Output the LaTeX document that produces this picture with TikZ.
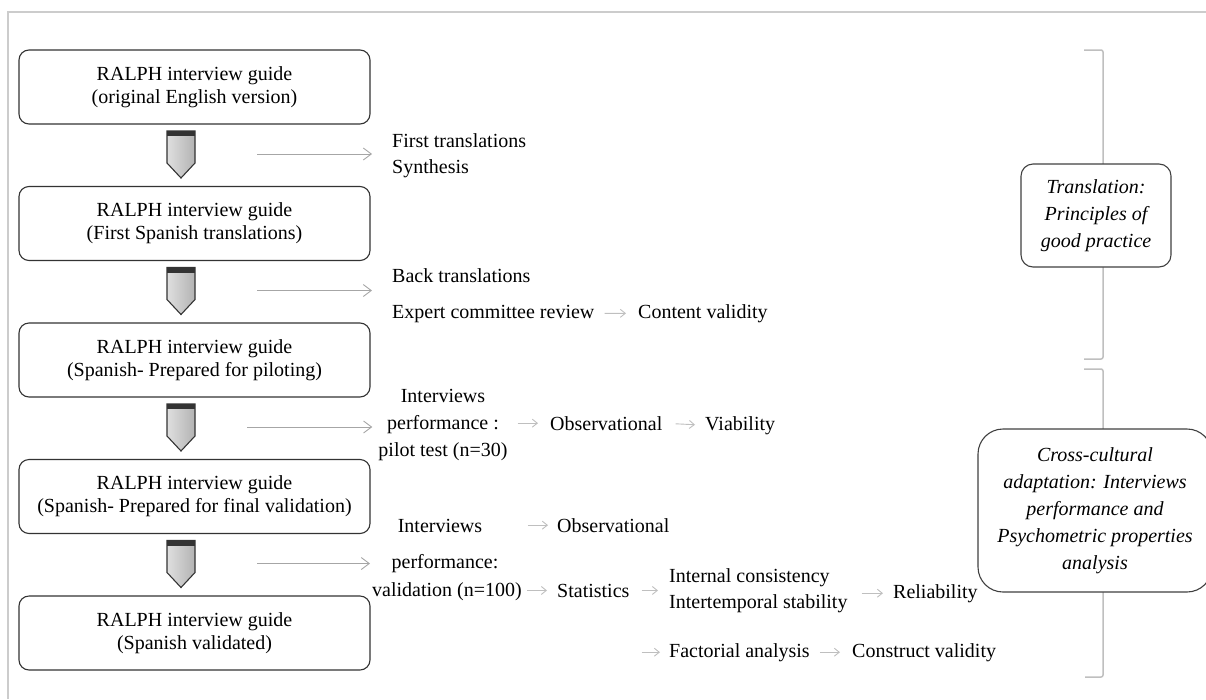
\documentclass[tikz,border=0pt]{standalone}
\usepackage{fontspec}
\setmainfont{Liberation Serif}
\usetikzlibrary{arrows.meta}

% chevron marker between two guide boxes: #1 = name of its right-hand coordinate, #2 = top y
\newcommand\stepchevron[2]{%
  \path[chevfill] (167,#2) -- (195,#2) -- (195,#2+32) -- (181,#2+47) -- (167,#2+32) -- cycle;
  \fill[black!80] (167,#2) rectangle (195,#2+5);
  \coordinate (#1) at (195,#2+23);
}

\begin{document}
\begin{tikzpicture}[x=1pt,y=-1pt,
  guide/.style={draw=black!80, line width=1.1pt, rounded corners=10pt, fill=white,
    minimum width=351pt, minimum height=74pt, align=center, inner sep=0pt,
    font=\fontsize{20}{23}\selectfont},
  lbl/.style={inner sep=0pt, font=\fontsize{20}{27}\selectfont},
  phase/.style={draw=black!75, line width=1.1pt, fill=white, align=center, inner sep=0pt,
    font=\fontsize{20}{27}\selectfont\itshape},
  chevfill/.style={left color=gray!25, right color=gray!60, draw=black!80, line width=1.1pt},
  bigarr/.style={draw=gray!70, line width=0.9pt, -{Straight Barb[length=8pt,width=12pt]}},
  smallarr/.style={draw=gray!50, line width=0.9pt, -{Straight Barb[length=5pt,width=8pt]}},
  bracket/.style={draw=gray!50, line width=1.5pt, rounded corners=2pt},
  frameline/.style={draw=gray!40, line width=1.6pt}]

\useasboundingbox (0,0) rectangle (1206,699);
\clip (0,0) rectangle (1206,699);

% outer frame (top and left edges)
\draw[frameline] (8,699) -- (8,12) -- (1206,12);

% guide versions
\node[guide] (g1) at (194.5,87)    {RALPH interview guide\\(original English version)};
\node[guide] (g2) at (194.5,223.5) {RALPH interview guide\\(First Spanish translations)};
\node[guide] (g3) at (194.5,360)   {RALPH interview guide\\(Spanish- Prepared for piloting)};
\node[guide] (g4) at (194.5,496.5) {RALPH interview guide\\(Spanish- Prepared for final validation)};
\node[guide] (g5) at (194.5,633)   {RALPH interview guide\\(Spanish validated)};

\stepchevron{c1}{131}
\stepchevron{c2}{267.5}
\stepchevron{c3}{404}
\stepchevron{c4}{540.5}

% step 1
\node[lbl, anchor=base west] (ft)  at (392,147) {First translations};
\node[lbl, anchor=base west] (syn) at (392,173) {Synthesis};
\draw[bigarr, shorten <=62pt, shorten >=20pt] (c1) -- (c1 -| ft.west);

% step 2
\node[lbl, anchor=base west] (bt)  at (392,282) {Back translations};
\node[lbl, anchor=base west] (ecr) at (392,318) {Expert committee review};
\node[lbl, anchor=base west] (cv)  at (638,318) {Content validity};
\draw[bigarr, shorten <=62pt, shorten >=20pt] (c2) -- (c2 -| bt.west);
\draw[smallarr, shorten <=10pt, shorten >=12pt] (ecr.east) -- (cv.west);

% step 3: pilot
\node[lbl, align=center] (pil) at (443,425) {Interviews\\performance :\\pilot test (n=30)};
\node[lbl, anchor=base west] (ob1) at (550,430) {Observational};
\node[lbl, anchor=base west] (via) at (705,430) {Viability};
\draw[bigarr, shorten <=52pt, shorten >=6pt] (c3) -- (c3 -| pil.west);
\draw[smallarr, shorten <=10pt, shorten >=12pt] (pil.east |- ob1.west) -- (ob1.west);
\draw[smallarr, shorten <=13pt, shorten >=10pt] (ob1.east) -- (via.west);

% step 4: validation
\node[lbl, anchor=base] (iv)   at (440,532) {Interviews};
\node[lbl, anchor=base] (perf) at (445,568) {performance:};
\node[lbl, anchor=base west] (val)  at (372,596) {validation (n=100)};
\node[lbl, anchor=base west] (ob2)  at (557,532) {Observational};
\node[lbl, anchor=base west] (sta)  at (557,597) {Statistics};
\node[lbl, anchor=base west] (ic)   at (669,582) {Internal consistency};
\node[lbl, anchor=base west] (its)  at (669,608) {Intertemporal stability};
\node[lbl, anchor=base west] (rel)  at (893,598) {Reliability};
\node[lbl, anchor=base west] (fa)   at (669,657) {Factorial analysis};
\node[lbl, anchor=base west] (cons) at (852,657) {Construct validity};
\draw[bigarr, shorten <=62pt, shorten >=2pt] (c4) -- (c4 -| val.west);
\draw[smallarr, shorten <=6pt, shorten >=9pt] (val.east |- ob2.west) -- (ob2.west);
\draw[smallarr, shorten <=5pt, shorten >=10pt] (val.east |- sta.west) -- (sta.west);
\draw[smallarr, shorten <=12pt, shorten >=11pt] (sta.east) -- (sta.east -| ic.west);
\draw[smallarr, shorten <=14pt, shorten >=10pt] (rel.west -| its.east) -- (rel.west);
\draw[smallarr, shorten <=12pt, shorten >=9pt] (fa.west -| sta.east) -- (fa.west);
\draw[smallarr, shorten <=10pt, shorten >=12pt] (fa.east) -- (cons.west);

% phase brackets
\draw[bracket] (1084,50) -- (1103,50) -- (1103,359) -- (1084,359);
\draw[bracket] (1084,369) -- (1103,369) -- (1103,677) -- (1085,677);

% phase labels
\node[phase, rounded corners=12pt, minimum width=150pt, minimum height=103pt] (tr)
  at (1096,215.5) {Translation:\\Principles of\\good practice};
\node[phase, rounded corners=25pt, minimum width=234pt, minimum height=163pt] (cc)
  at (1095,510.5) {Cross-cultural\\adaptation: Interviews\\performance and\\Psychometric properties\\analysis};

\end{tikzpicture}
\end{document}
